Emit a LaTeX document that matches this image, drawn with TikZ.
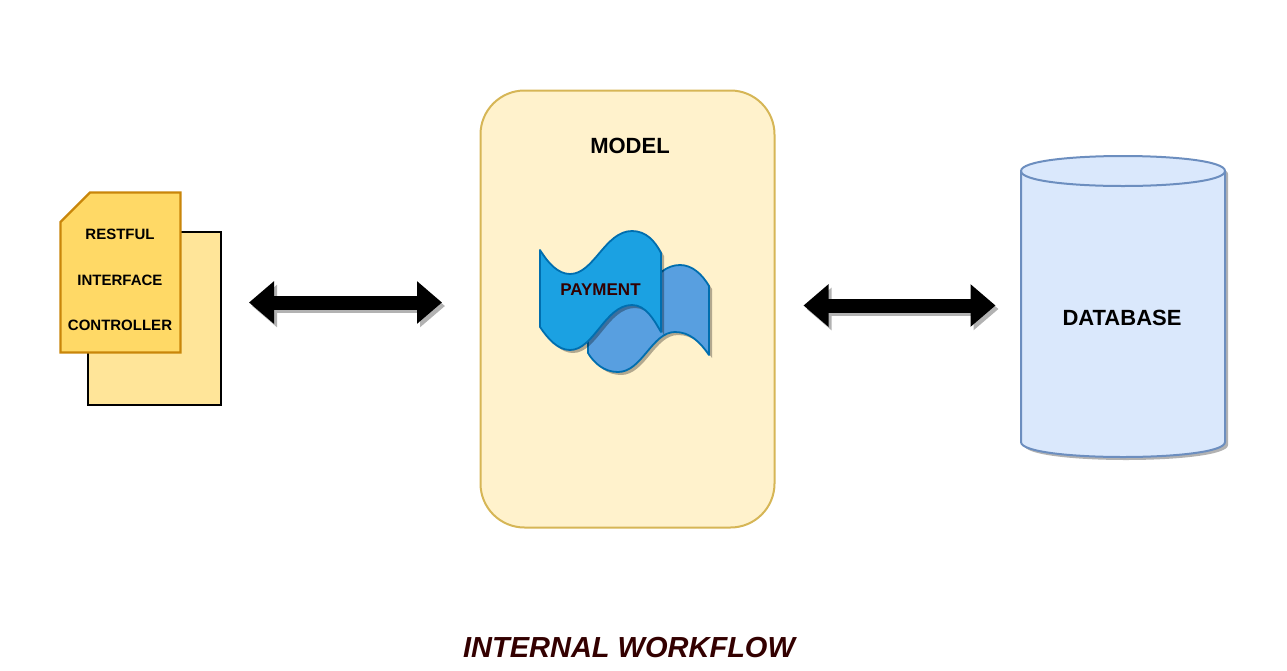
\documentclass[tikz,border=0pt]{standalone}
\usepackage{fontspec}
\setmainfont{Liberation Sans}
\usetikzlibrary{arrows.meta}
\usetikzlibrary{shadows}
\definecolor{cardfill}{HTML}{FFD966}
\definecolor{cardline}{HTML}{C9860A}
\definecolor{pagefill}{HTML}{FFE599}
\definecolor{modelfill}{HTML}{FFF2CC}
\definecolor{modelline}{HTML}{D6B656}
\definecolor{dbfill}{HTML}{DAE8FC}
\definecolor{dbline}{HTML}{6C8EBF}
\definecolor{tapefront}{HTML}{1BA1E2}
\definecolor{tapeback}{HTML}{589FE0}
\definecolor{tapeline}{HTML}{006EAF}
\definecolor{titlecol}{HTML}{330000}
\tikzset{
  softshadow/.style={drop shadow={shadow xshift=3pt,shadow yshift=-3pt,opacity=.3,fill=black}},
  cardtext/.style={font=\bfseries\fontsize{15}{18}\selectfont},
  headtext/.style={font=\bfseries\fontsize{22}{25}\selectfont},
  tape/.style={draw=tapeline,line width=1.8pt,line join=round,softshadow},
  flow/.style={line width=14pt,{Triangle[length=25pt,width=41pt]}-{Triangle[length=25pt,width=41pt]}},
  flowshadow/.style={flow,draw=black!30,fill=black!30,transform canvas={shift={(3pt,-3.5pt)}}}
}
\begin{document}
\begin{tikzpicture}[x=1pt,y=-1pt]
  \useasboundingbox (0,0) rectangle (1287,670);
  % Controller documents
  \node [draw=black,fill=pagefill,line width=2pt,minimum width=133pt,minimum height=173pt,inner sep=0] (page) at (154,318.5) {};
  \draw [draw=cardline,fill=cardfill,line width=2.4pt] (90,192.5) -- (180.5,192.5) -- (180.5,352.5) -- (60.5,352.5) -- (60.5,222) -- cycle;
  \node [cardtext] (restful) at (120,234) {RESTFUL};
  \node [cardtext] (interface) at (120,280) {INTERFACE};
  \node [cardtext] (controller) at (120,325) {CONTROLLER};
  % Model box
  \node [draw=modelline,fill=modelfill,line width=2pt,rounded corners=44pt,minimum width=294pt,minimum height=437pt,inner sep=0] (model) at (627.5,309) {};
  \node [headtext] (modeltitle) at (630,146) {MODEL};
  % Payment tapes
  \draw [tape,fill=tapeback] (588,353) -- (588,286)
    .. controls (600,300) and (610,305) .. (618,305)
    .. controls (645,305) and (652,265) .. (680,265)
    .. controls (692,265) and (702,274) .. (709,286)
    -- (709,355)
    .. controls (700,342) and (690,332) .. (675,332)
    .. controls (652,332) and (642,372) .. (618,372)
    .. controls (604,372) and (594,363) .. (588,353) -- cycle;
  \draw [tape,fill=tapefront] (540,250)
    .. controls (548,263) and (558,274) .. (570,274)
    .. controls (594,274) and (605,231) .. (632,231)
    .. controls (646,231) and (655,241) .. (661,253)
    -- (661,332)
    .. controls (654,320) and (646,305) .. (632,305)
    .. controls (605,305) and (594,350) .. (570,350)
    .. controls (558,350) and (548,339) .. (540,327) -- cycle;
  \node [font=\bfseries\fontsize{17}{20}\selectfont,text=titlecol] (payment) at (600.5,289.5) {PAYMENT};
  % Database
  \draw [draw=dbline,fill=dbfill,line width=2pt,softshadow] (1021,171)
    .. controls (1021,151) and (1225,151) .. (1225,171)
    -- (1225,442)
    .. controls (1225,462) and (1021,462) .. (1021,442) -- cycle;
  \draw [draw=dbline,line width=2pt] (1021,171) .. controls (1021,191) and (1225,191) .. (1225,171);
  \node [headtext] (database) at (1122,318) {DATABASE};
  % Arrows
  \coordinate (left1) at (249,302.5);
  \coordinate (right1) at (442,302.5);
  \coordinate (left2) at (803.5,305.5);
  \coordinate (right2) at (995.5,305.5);
  \draw [flowshadow] (left1) -- (right1);
  \draw [flow] (left1) -- (right1);
  \draw [flowshadow] (left2) -- (right2);
  \draw [flow] (left2) -- (right2);
  % Title
  \node [font=\bfseries\itshape\fontsize{29}{34}\selectfont,text=titlecol] (title) at (629,648) {INTERNAL WORKFLOW};
\end{tikzpicture}
\end{document}
